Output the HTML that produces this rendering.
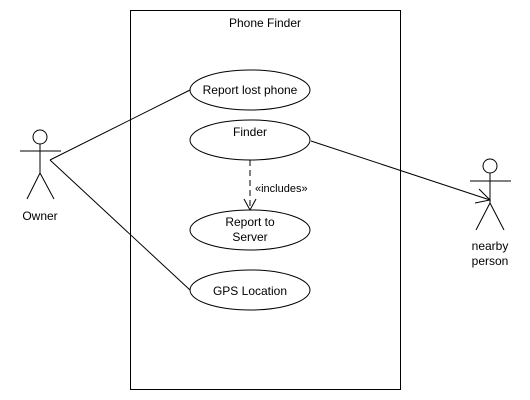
<!DOCTYPE html>
<html><head><style>body{margin:0;background:#fff}svg{display:block}</style></head><body>
<svg width="530" height="400" xmlns="http://www.w3.org/2000/svg" font-family="Liberation Sans, Arial, sans-serif" font-size="12">
<rect x="130.5" y="10.5" width="270" height="379" fill="#fff" stroke="#000"/>
<text x="265" y="27" text-anchor="middle">Phone Finder</text>
<line x1="50" y1="160" x2="190" y2="90" stroke="#000"/>
<line x1="50" y1="160" x2="190" y2="290" stroke="#000"/>
<line x1="311" y1="141" x2="490" y2="200" stroke="#000"/>
<polyline points="479,189 490,200 475,203" fill="none" stroke="#000"/>
<line x1="250" y1="160" x2="250" y2="209" stroke="#000" stroke-dasharray="6,4"/>
<polyline points="244,199 250,210 256,199" fill="none" stroke="#000"/>
<text x="255" y="192" font-size="11">«includes»</text>
<g fill="#fff" stroke="#000">
<ellipse cx="250" cy="90" rx="60" ry="20"/>
<ellipse cx="250" cy="140" rx="60" ry="20"/>
<ellipse cx="250" cy="230" rx="60" ry="20"/>
<ellipse cx="250" cy="290" rx="60" ry="20"/>
</g>
<g text-anchor="middle">
<text x="250" y="94">Report lost phone</text>
<text x="250" y="136">Finder</text>
<text x="250" y="226">Report to</text>
<text x="250" y="241">Server</text>
<text x="250" y="295">GPS Location</text>
<text x="40" y="220">Owner</text>
<text x="490" y="250">nearby</text>
<text x="490" y="265">person</text>
</g>
<g fill="#fff" stroke="#000">
<circle cx="40" cy="137" r="7"/>
<line x1="40" y1="144" x2="40" y2="173"/>
<line x1="20" y1="151" x2="61" y2="151"/>
<polyline points="27,199 40,173 54,199" fill="none"/>
<circle cx="490" cy="166" r="7"/>
<line x1="490" y1="173" x2="490" y2="203"/>
<line x1="470" y1="181" x2="511" y2="181"/>
<polyline points="476,230 490,203 504,230" fill="none"/>
</g>
</svg>
</body></html>
